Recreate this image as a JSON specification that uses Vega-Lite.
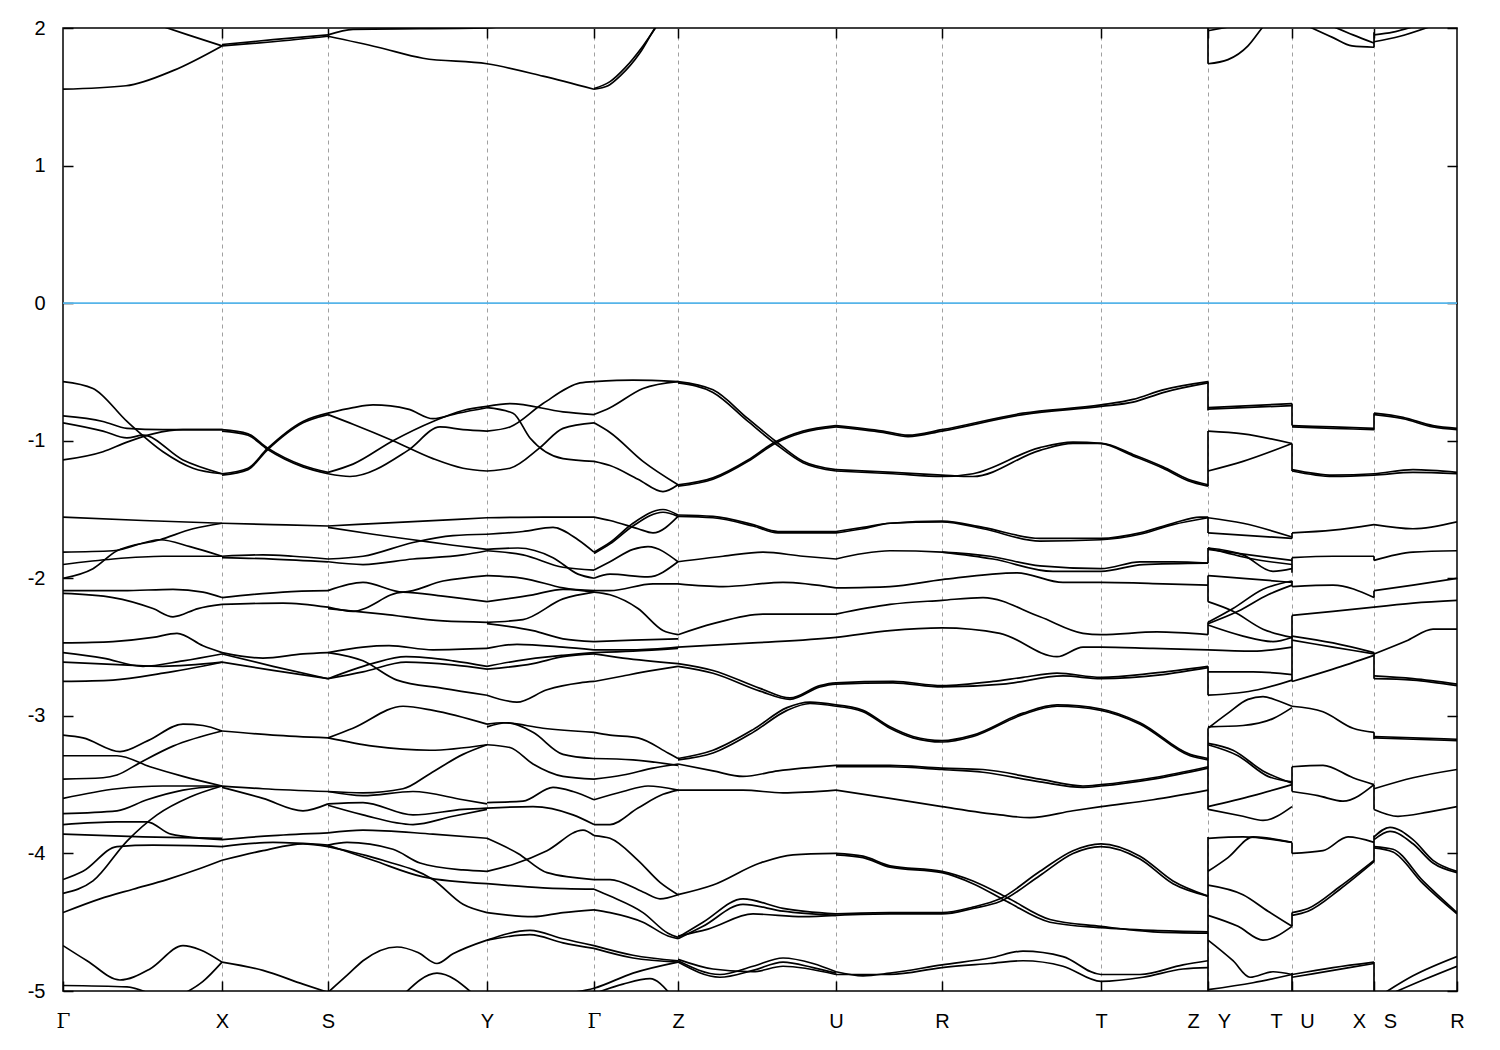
{
"$schema": "https://vega.github.io/schema/vega-lite/v6.json",
"autosize": {"type": "none"},
"padding": {"left": 63, "top": 28, "right": 43, "bottom": 59},
"width": 1394,
"height": 963,
"background": "white",
"config": {"view": {"stroke": "#000000", "strokeWidth": 1.5}},
"datasets": {
"bands": [
{"c":1,"k":0,"e":1.555},{"c":1,"k":63,"e":1.58},{"c":1,"k":110,"e":1.69},{"c":1,"k":159,"e":1.87},
{"c":2,"k":92,"e":2.03},{"c":2,"k":125,"e":1.95},{"c":2,"k":159,"e":1.87},
{"c":3,"k":159,"e":1.87},{"c":3,"k":210,"e":1.9},{"c":3,"k":265,"e":1.94},
{"c":4,"k":159,"e":1.88},{"c":4,"k":210,"e":1.915},{"c":4,"k":265,"e":1.95},
{"c":5,"k":265,"e":1.94},{"c":5,"k":315,"e":1.86},{"c":5,"k":360,"e":1.78},{"c":5,"k":424,"e":1.74},{"c":5,"k":480,"e":1.65},{"c":5,"k":531,"e":1.555},
{"c":6,"k":265,"e":1.95},{"c":6,"k":290,"e":1.99},{"c":6,"k":424,"e":2.0},{"c":6,"k":450,"e":2.03},
{"c":7,"k":531,"e":1.555},{"c":7,"k":545,"e":1.58},{"c":7,"k":557,"e":1.65},{"c":7,"k":577,"e":1.82},{"c":7,"k":592,"e":2.0},{"c":7,"k":602,"e":2.1},
{"c":8,"k":531,"e":1.56},{"c":8,"k":547,"e":1.61},{"c":8,"k":562,"e":1.71},{"c":8,"k":580,"e":1.87},{"c":8,"k":597,"e":2.05},
{"c":9,"k":1145,"e":1.74},{"c":9,"k":1165,"e":1.77},{"c":9,"k":1185,"e":1.87},{"c":9,"k":1199,"e":2.0},{"c":9,"k":1210,"e":2.1},
{"c":10,"k":1145,"e":1.98},{"c":10,"k":1167,"e":2.01},
{"c":11,"k":1243,"e":2.02},{"c":11,"k":1270,"e":1.93},{"c":11,"k":1289,"e":1.87},{"c":11,"k":1311,"e":1.86},
{"c":12,"k":1267,"e":2.02},{"c":12,"k":1290,"e":1.95},{"c":12,"k":1311,"e":1.89},
{"c":13,"k":1311,"e":1.95},{"c":13,"k":1330,"e":1.97},{"c":13,"k":1350,"e":2.01},
{"c":14,"k":1311,"e":1.9},{"c":14,"k":1337,"e":1.94},{"c":14,"k":1367,"e":2.01},
{"c":15,"k":1145,"e":1.74},{"c":15,"k":1145,"e":2.05},
{"c":16,"k":1311,"e":1.86},{"c":16,"k":1311,"e":1.97},

{"c":20,"k":0,"e":-0.57},{"c":20,"k":30,"e":-0.62},{"c":20,"k":64,"e":-0.86},{"c":20,"k":100,"e":-1.08},{"c":20,"k":130,"e":-1.2},{"c":20,"k":159,"e":-1.24},
{"c":21,"k":0,"e":-0.82},{"c":21,"k":40,"e":-0.86},{"c":21,"k":64,"e":-0.91},{"c":21,"k":100,"e":-0.92},{"c":21,"k":159,"e":-0.92},
{"c":22,"k":0,"e":-0.87},{"c":22,"k":40,"e":-0.93},{"c":22,"k":64,"e":-0.98},{"c":22,"k":80,"e":-0.96},{"c":22,"k":120,"e":-1.14},{"c":22,"k":159,"e":-1.24},
{"c":23,"k":0,"e":-1.14},{"c":23,"k":40,"e":-1.08},{"c":23,"k":64,"e":-1.01},{"c":23,"k":90,"e":-0.95},{"c":23,"k":120,"e":-0.92},{"c":23,"k":159,"e":-0.92},
{"c":24,"k":159,"e":-0.92},{"c":24,"k":185,"e":-0.95},{"c":24,"k":204,"e":-1.05},{"c":24,"k":240,"e":-1.18},{"c":24,"k":265,"e":-1.23},
{"c":25,"k":159,"e":-0.93},{"c":25,"k":185,"e":-0.96},{"c":25,"k":204,"e":-1.06},{"c":25,"k":240,"e":-1.19},{"c":25,"k":265,"e":-1.24},
{"c":26,"k":159,"e":-1.24},{"c":26,"k":185,"e":-1.2},{"c":26,"k":204,"e":-1.06},{"c":26,"k":240,"e":-0.86},{"c":26,"k":265,"e":-0.8},
{"c":27,"k":159,"e":-1.25},{"c":27,"k":185,"e":-1.21},{"c":27,"k":204,"e":-1.07},{"c":27,"k":240,"e":-0.87},{"c":27,"k":265,"e":-0.81},
{"c":28,"k":265,"e":-0.8},{"c":28,"k":290,"e":-0.76},{"c":28,"k":310,"e":-0.74},{"c":28,"k":345,"e":-0.77},{"c":28,"k":370,"e":-0.84},{"c":28,"k":395,"e":-0.8},{"c":28,"k":424,"e":-0.76},
{"c":29,"k":265,"e":-0.81},{"c":29,"k":290,"e":-0.88},{"c":29,"k":330,"e":-1.0},{"c":29,"k":370,"e":-1.13},{"c":29,"k":400,"e":-1.2},{"c":29,"k":424,"e":-1.22},
{"c":30,"k":265,"e":-1.23},{"c":30,"k":290,"e":-1.17},{"c":30,"k":330,"e":-1.0},{"c":30,"k":370,"e":-0.86},{"c":30,"k":400,"e":-0.78},{"c":30,"k":424,"e":-0.75},
{"c":31,"k":265,"e":-1.24},{"c":31,"k":287,"e":-1.26},{"c":31,"k":345,"e":-1.07},{"c":31,"k":377,"e":-0.9},{"c":31,"k":400,"e":-0.92},{"c":31,"k":424,"e":-0.93},
{"c":32,"k":424,"e":-0.75},{"c":32,"k":447,"e":-0.73},{"c":32,"k":500,"e":-0.79},{"c":32,"k":531,"e":-0.81},
{"c":33,"k":424,"e":-0.76},{"c":33,"k":450,"e":-0.8},{"c":33,"k":467,"e":-0.98},{"c":33,"k":500,"e":-1.13},{"c":33,"k":531,"e":-1.15},
{"c":34,"k":424,"e":-0.93},{"c":34,"k":447,"e":-0.9},{"c":34,"k":480,"e":-0.73},{"c":34,"k":517,"e":-0.58},{"c":34,"k":531,"e":-0.57},
{"c":35,"k":424,"e":-1.22},{"c":35,"k":447,"e":-1.2},{"c":35,"k":477,"e":-1.05},{"c":35,"k":500,"e":-0.91},{"c":35,"k":531,"e":-0.87},
{"c":36,"k":531,"e":-0.57},{"c":36,"k":570,"e":-0.56},{"c":36,"k":615,"e":-0.57},
{"c":37,"k":531,"e":-0.81},{"c":37,"k":547,"e":-0.76},{"c":37,"k":580,"e":-0.62},{"c":37,"k":615,"e":-0.57},
{"c":38,"k":531,"e":-0.87},{"c":38,"k":547,"e":-0.94},{"c":38,"k":580,"e":-1.15},{"c":38,"k":615,"e":-1.32},
{"c":39,"k":531,"e":-1.15},{"c":39,"k":547,"e":-1.18},{"c":39,"k":575,"e":-1.28},{"c":39,"k":600,"e":-1.37},{"c":39,"k":615,"e":-1.32},
{"c":40,"k":615,"e":-0.57},{"c":40,"k":650,"e":-0.63},{"c":40,"k":685,"e":-0.84},{"c":40,"k":712,"e":-1.0},{"c":40,"k":740,"e":-1.15},{"c":40,"k":773,"e":-1.21},
{"c":41,"k":615,"e":-0.58},{"c":41,"k":650,"e":-0.65},{"c":41,"k":685,"e":-0.86},{"c":41,"k":712,"e":-1.02},{"c":41,"k":740,"e":-1.16},{"c":41,"k":773,"e":-1.22},
{"c":42,"k":615,"e":-1.32},{"c":42,"k":650,"e":-1.27},{"c":42,"k":685,"e":-1.14},{"c":42,"k":712,"e":-1.01},{"c":42,"k":740,"e":-0.93},{"c":42,"k":773,"e":-0.89},
{"c":43,"k":615,"e":-1.33},{"c":43,"k":650,"e":-1.28},{"c":43,"k":685,"e":-1.15},{"c":43,"k":712,"e":-1.02},{"c":43,"k":740,"e":-0.94},{"c":43,"k":773,"e":-0.9},
{"c":44,"k":773,"e":-0.89},{"c":44,"k":820,"e":-0.93},{"c":44,"k":845,"e":-0.96},{"c":44,"k":879,"e":-0.92},{"c":44,"k":960,"e":-0.8},{"c":44,"k":1038,"e":-0.74},{"c":44,"k":1070,"e":-0.7},{"c":44,"k":1100,"e":-0.63},{"c":44,"k":1145,"e":-0.57},
{"c":45,"k":773,"e":-0.9},{"c":45,"k":820,"e":-0.94},{"c":45,"k":845,"e":-0.97},{"c":45,"k":879,"e":-0.93},{"c":45,"k":960,"e":-0.81},{"c":45,"k":1038,"e":-0.75},{"c":45,"k":1070,"e":-0.72},{"c":45,"k":1100,"e":-0.65},{"c":45,"k":1145,"e":-0.58},
{"c":46,"k":773,"e":-1.21},{"c":46,"k":830,"e":-1.23},{"c":46,"k":879,"e":-1.25},{"c":46,"k":910,"e":-1.26},{"c":46,"k":977,"e":-1.07},{"c":46,"k":1010,"e":-1.02},{"c":46,"k":1038,"e":-1.02},{"c":46,"k":1070,"e":-1.1},{"c":46,"k":1100,"e":-1.19},{"c":46,"k":1125,"e":-1.28},{"c":46,"k":1145,"e":-1.32},
{"c":47,"k":773,"e":-1.22},{"c":47,"k":830,"e":-1.24},{"c":47,"k":879,"e":-1.26},{"c":47,"k":910,"e":-1.24},{"c":47,"k":977,"e":-1.05},{"c":47,"k":1010,"e":-1.01},{"c":47,"k":1038,"e":-1.02},{"c":47,"k":1070,"e":-1.11},{"c":47,"k":1100,"e":-1.2},{"c":47,"k":1125,"e":-1.29},{"c":47,"k":1145,"e":-1.33},
{"c":48,"k":1145,"e":-0.57},{"c":48,"k":1145,"e":-0.78},
{"c":49,"k":1145,"e":-0.93},{"c":49,"k":1145,"e":-1.33},
{"c":50,"k":1145,"e":-0.76},{"c":50,"k":1229,"e":-0.73},
{"c":51,"k":1145,"e":-0.77},{"c":51,"k":1229,"e":-0.745},
{"c":52,"k":1145,"e":-0.93},{"c":52,"k":1180,"e":-0.95},{"c":52,"k":1229,"e":-1.02},
{"c":53,"k":1145,"e":-1.22},{"c":53,"k":1180,"e":-1.15},{"c":53,"k":1229,"e":-1.02},
{"c":54,"k":1229,"e":-0.73},{"c":54,"k":1229,"e":-0.89},
{"c":55,"k":1229,"e":-1.02},{"c":55,"k":1229,"e":-1.22},
{"c":56,"k":1229,"e":-0.89},{"c":56,"k":1270,"e":-0.9},{"c":56,"k":1311,"e":-0.91},
{"c":57,"k":1229,"e":-0.9},{"c":57,"k":1270,"e":-0.91},{"c":57,"k":1311,"e":-0.92},
{"c":58,"k":1229,"e":-1.21},{"c":58,"k":1270,"e":-1.25},{"c":58,"k":1311,"e":-1.24},{"c":58,"k":1350,"e":-1.21},{"c":58,"k":1394,"e":-1.23},
{"c":59,"k":1229,"e":-1.22},{"c":59,"k":1270,"e":-1.26},{"c":59,"k":1311,"e":-1.25},{"c":59,"k":1350,"e":-1.23},{"c":59,"k":1394,"e":-1.24},
{"c":60,"k":1311,"e":-0.8},{"c":60,"k":1311,"e":-0.92},
{"c":61,"k":1311,"e":-0.8},{"c":61,"k":1340,"e":-0.83},{"c":61,"k":1370,"e":-0.89},{"c":61,"k":1394,"e":-0.91},
{"c":62,"k":1311,"e":-0.81},{"c":62,"k":1340,"e":-0.84},{"c":62,"k":1370,"e":-0.9},{"c":62,"k":1394,"e":-0.92},

{"c":70,"k":0,"e":-1.555},{"c":70,"k":80,"e":-1.58},{"c":70,"k":159,"e":-1.6},
{"c":71,"k":0,"e":-1.81},{"c":71,"k":50,"e":-1.8},{"c":71,"k":97,"e":-1.72},{"c":71,"k":127,"e":-1.77},{"c":71,"k":159,"e":-1.84},
{"c":72,"k":0,"e":-1.9},{"c":72,"k":50,"e":-1.86},{"c":72,"k":100,"e":-1.84},{"c":72,"k":159,"e":-1.84},
{"c":73,"k":0,"e":-2.0},{"c":73,"k":30,"e":-1.93},{"c":73,"k":54,"e":-1.8},{"c":73,"k":97,"e":-1.72},{"c":73,"k":130,"e":-1.64},{"c":73,"k":159,"e":-1.6},
{"c":74,"k":0,"e":-2.09},{"c":74,"k":60,"e":-2.09},{"c":74,"k":110,"e":-2.08},{"c":74,"k":140,"e":-2.1},{"c":74,"k":159,"e":-2.14},
{"c":75,"k":0,"e":-2.11},{"c":75,"k":50,"e":-2.14},{"c":75,"k":90,"e":-2.22},{"c":75,"k":110,"e":-2.28},{"c":75,"k":135,"e":-2.22},{"c":75,"k":159,"e":-2.19},
{"c":76,"k":159,"e":-1.6},{"c":76,"k":210,"e":-1.61},{"c":76,"k":265,"e":-1.62},
{"c":77,"k":159,"e":-1.84},{"c":77,"k":200,"e":-1.83},{"c":77,"k":230,"e":-1.84},{"c":77,"k":265,"e":-1.86},
{"c":78,"k":159,"e":-1.85},{"c":78,"k":210,"e":-1.86},{"c":78,"k":265,"e":-1.88},
{"c":79,"k":159,"e":-2.14},{"c":79,"k":220,"e":-2.1},{"c":79,"k":265,"e":-2.09},
{"c":80,"k":159,"e":-2.19},{"c":80,"k":220,"e":-2.18},{"c":80,"k":265,"e":-2.21},
{"c":81,"k":265,"e":-1.62},{"c":81,"k":345,"e":-1.59},{"c":81,"k":424,"e":-1.56},
{"c":82,"k":265,"e":-1.63},{"c":82,"k":310,"e":-1.68},{"c":82,"k":350,"e":-1.72},{"c":82,"k":390,"e":-1.76},{"c":82,"k":424,"e":-1.79},
{"c":83,"k":265,"e":-1.86},{"c":83,"k":300,"e":-1.84},{"c":83,"k":350,"e":-1.74},{"c":83,"k":390,"e":-1.69},{"c":83,"k":424,"e":-1.68},
{"c":84,"k":265,"e":-1.88},{"c":84,"k":300,"e":-1.9},{"c":84,"k":350,"e":-1.86},{"c":84,"k":400,"e":-1.83},{"c":84,"k":424,"e":-1.8},
{"c":85,"k":265,"e":-2.09},{"c":85,"k":300,"e":-2.03},{"c":85,"k":340,"e":-2.1},{"c":85,"k":380,"e":-2.02},{"c":85,"k":424,"e":-1.98},
{"c":86,"k":265,"e":-2.21},{"c":86,"k":290,"e":-2.24},{"c":86,"k":340,"e":-2.1},{"c":86,"k":380,"e":-2.13},{"c":86,"k":424,"e":-2.17},
{"c":87,"k":265,"e":-2.22},{"c":87,"k":320,"e":-2.26},{"c":87,"k":380,"e":-2.31},{"c":87,"k":424,"e":-2.32},
{"c":88,"k":424,"e":-1.56},{"c":88,"k":480,"e":-1.555},{"c":88,"k":531,"e":-1.555},
{"c":89,"k":424,"e":-1.68},{"c":89,"k":460,"e":-1.66},{"c":89,"k":490,"e":-1.63},{"c":89,"k":515,"e":-1.72},{"c":89,"k":531,"e":-1.81},
{"c":90,"k":424,"e":-1.79},{"c":90,"k":455,"e":-1.78},{"c":90,"k":490,"e":-1.85},{"c":90,"k":515,"e":-1.97},{"c":90,"k":531,"e":-2.0},
{"c":91,"k":424,"e":-1.8},{"c":91,"k":460,"e":-1.83},{"c":91,"k":500,"e":-1.92},{"c":91,"k":531,"e":-1.94},
{"c":92,"k":424,"e":-1.98},{"c":92,"k":460,"e":-2.0},{"c":92,"k":500,"e":-2.07},{"c":92,"k":531,"e":-2.1},
{"c":93,"k":424,"e":-2.17},{"c":93,"k":470,"e":-2.12},{"c":93,"k":500,"e":-2.08},{"c":93,"k":531,"e":-2.09},
{"c":94,"k":424,"e":-2.32},{"c":94,"k":460,"e":-2.3},{"c":94,"k":500,"e":-2.15},{"c":94,"k":531,"e":-2.1},
{"c":95,"k":424,"e":-2.33},{"c":95,"k":470,"e":-2.38},{"c":95,"k":500,"e":-2.44},{"c":95,"k":531,"e":-2.46},
{"c":96,"k":531,"e":-1.555},{"c":96,"k":547,"e":-1.58},{"c":96,"k":575,"e":-1.64},{"c":96,"k":590,"e":-1.67},{"c":96,"k":615,"e":-1.55},
{"c":97,"k":531,"e":-1.81},{"c":97,"k":547,"e":-1.74},{"c":97,"k":570,"e":-1.6},{"c":97,"k":600,"e":-1.5},{"c":97,"k":615,"e":-1.54},
{"c":98,"k":531,"e":-1.82},{"c":98,"k":547,"e":-1.75},{"c":98,"k":570,"e":-1.62},{"c":98,"k":600,"e":-1.52},{"c":98,"k":615,"e":-1.55},
{"c":99,"k":531,"e":-1.94},{"c":99,"k":547,"e":-1.88},{"c":99,"k":570,"e":-1.79},{"c":99,"k":585,"e":-1.77},{"c":99,"k":615,"e":-1.88},
{"c":100,"k":531,"e":-2.0},{"c":100,"k":547,"e":-1.97},{"c":100,"k":585,"e":-1.99},{"c":100,"k":615,"e":-1.88},
{"c":101,"k":531,"e":-2.09},{"c":101,"k":547,"e":-2.09},{"c":101,"k":590,"e":-2.04},{"c":101,"k":615,"e":-2.04},
{"c":102,"k":531,"e":-2.1},{"c":102,"k":547,"e":-2.12},{"c":102,"k":575,"e":-2.22},{"c":102,"k":600,"e":-2.38},{"c":102,"k":615,"e":-2.41},
{"c":103,"k":531,"e":-2.46},{"c":103,"k":570,"e":-2.45},{"c":103,"k":615,"e":-2.44},
{"c":104,"k":615,"e":-1.55},{"c":104,"k":650,"e":-1.56},{"c":104,"k":690,"e":-1.62},{"c":104,"k":715,"e":-1.67},{"c":104,"k":773,"e":-1.67},
{"c":105,"k":615,"e":-1.54},{"c":105,"k":650,"e":-1.55},{"c":105,"k":690,"e":-1.61},{"c":105,"k":715,"e":-1.66},{"c":105,"k":773,"e":-1.66},
{"c":106,"k":615,"e":-1.88},{"c":106,"k":660,"e":-1.84},{"c":106,"k":700,"e":-1.81},{"c":106,"k":740,"e":-1.84},{"c":106,"k":773,"e":-1.86},
{"c":107,"k":615,"e":-2.04},{"c":107,"k":660,"e":-2.06},{"c":107,"k":720,"e":-2.03},{"c":107,"k":773,"e":-2.07},
{"c":108,"k":615,"e":-2.41},{"c":108,"k":650,"e":-2.33},{"c":108,"k":700,"e":-2.26},{"c":108,"k":773,"e":-2.26},
{"c":109,"k":773,"e":-1.67},{"c":109,"k":800,"e":-1.64},{"c":109,"k":827,"e":-1.6},{"c":109,"k":879,"e":-1.585},{"c":109,"k":920,"e":-1.63},{"c":109,"k":977,"e":-1.71},{"c":109,"k":1038,"e":-1.71},{"c":109,"k":1077,"e":-1.67},{"c":109,"k":1110,"e":-1.6},{"c":109,"k":1137,"e":-1.555},{"c":109,"k":1145,"e":-1.555},
{"c":110,"k":773,"e":-1.66},{"c":110,"k":800,"e":-1.63},{"c":110,"k":827,"e":-1.6},{"c":110,"k":879,"e":-1.59},{"c":110,"k":920,"e":-1.64},{"c":110,"k":977,"e":-1.73},{"c":110,"k":1038,"e":-1.72},{"c":110,"k":1077,"e":-1.68},{"c":110,"k":1110,"e":-1.61},{"c":110,"k":1145,"e":-1.56},
{"c":111,"k":773,"e":-1.86},{"c":111,"k":800,"e":-1.82},{"c":111,"k":827,"e":-1.8},{"c":111,"k":879,"e":-1.81},{"c":111,"k":927,"e":-1.84},{"c":111,"k":977,"e":-1.91},{"c":111,"k":1038,"e":-1.93},{"c":111,"k":1077,"e":-1.88},{"c":111,"k":1110,"e":-1.88},{"c":111,"k":1145,"e":-1.89},
{"c":112,"k":879,"e":-1.81},{"c":112,"k":930,"e":-1.86},{"c":112,"k":990,"e":-1.95},{"c":112,"k":1038,"e":-1.95},{"c":112,"k":1080,"e":-1.9},{"c":112,"k":1145,"e":-1.89},
{"c":113,"k":773,"e":-2.07},{"c":113,"k":827,"e":-2.06},{"c":113,"k":879,"e":-2.01},{"c":113,"k":954,"e":-1.96},{"c":113,"k":1000,"e":-2.03},{"c":113,"k":1038,"e":-2.03},{"c":113,"k":1100,"e":-2.04},{"c":113,"k":1145,"e":-2.05},
{"c":114,"k":773,"e":-2.26},{"c":114,"k":827,"e":-2.19},{"c":114,"k":879,"e":-2.16},{"c":114,"k":920,"e":-2.14},{"c":114,"k":977,"e":-2.28},{"c":114,"k":1020,"e":-2.4},{"c":114,"k":1038,"e":-2.41},{"c":114,"k":1094,"e":-2.39},{"c":114,"k":1145,"e":-2.41},
{"c":115,"k":1145,"e":-1.555},{"c":115,"k":1145,"e":-1.67},
{"c":116,"k":1145,"e":-1.78},{"c":116,"k":1145,"e":-1.89},
{"c":117,"k":1145,"e":-1.98},{"c":117,"k":1145,"e":-2.17},
{"c":118,"k":1145,"e":-2.32},{"c":118,"k":1145,"e":-2.41},
{"c":119,"k":1145,"e":-1.56},{"c":119,"k":1180,"e":-1.6},{"c":119,"k":1229,"e":-1.7},
{"c":120,"k":1145,"e":-1.67},{"c":120,"k":1229,"e":-1.71},
{"c":121,"k":1145,"e":-1.78},{"c":121,"k":1180,"e":-1.83},{"c":121,"k":1210,"e":-1.95},{"c":121,"k":1229,"e":-1.93},
{"c":122,"k":1145,"e":-1.78},{"c":122,"k":1190,"e":-1.86},{"c":122,"k":1229,"e":-1.9},
{"c":123,"k":1145,"e":-1.79},{"c":123,"k":1229,"e":-1.87},
{"c":124,"k":1145,"e":-1.98},{"c":124,"k":1180,"e":-2.0},{"c":124,"k":1229,"e":-2.03},
{"c":125,"k":1145,"e":-2.17},{"c":125,"k":1170,"e":-2.24},{"c":125,"k":1200,"e":-2.37},{"c":125,"k":1229,"e":-2.43},
{"c":126,"k":1145,"e":-2.32},{"c":126,"k":1170,"e":-2.22},{"c":126,"k":1200,"e":-2.08},{"c":126,"k":1229,"e":-2.02},
{"c":127,"k":1145,"e":-2.33},{"c":127,"k":1175,"e":-2.24},{"c":127,"k":1205,"e":-2.12},{"c":127,"k":1229,"e":-2.05},
{"c":128,"k":1145,"e":-2.34},{"c":128,"k":1180,"e":-2.42},{"c":128,"k":1210,"e":-2.46},{"c":128,"k":1229,"e":-2.43},
{"c":129,"k":1229,"e":-1.67},{"c":129,"k":1229,"e":-1.71},
{"c":130,"k":1229,"e":-1.85},{"c":130,"k":1229,"e":-1.96},
{"c":131,"k":1229,"e":-2.02},{"c":131,"k":1229,"e":-2.06},
{"c":132,"k":1229,"e":-2.27},{"c":132,"k":1229,"e":-2.43},
{"c":133,"k":1229,"e":-1.67},{"c":133,"k":1270,"e":-1.65},{"c":133,"k":1311,"e":-1.61},
{"c":134,"k":1229,"e":-1.85},{"c":134,"k":1270,"e":-1.84},{"c":134,"k":1311,"e":-1.84},
{"c":135,"k":1229,"e":-2.06},{"c":135,"k":1270,"e":-2.05},{"c":135,"k":1311,"e":-2.14},
{"c":136,"k":1229,"e":-2.27},{"c":136,"k":1270,"e":-2.24},{"c":136,"k":1311,"e":-2.21},
{"c":137,"k":1311,"e":-1.84},{"c":137,"k":1311,"e":-1.87},
{"c":138,"k":1311,"e":-2.09},{"c":138,"k":1311,"e":-2.14},
{"c":139,"k":1311,"e":-1.61},{"c":139,"k":1350,"e":-1.64},{"c":139,"k":1394,"e":-1.59},
{"c":140,"k":1311,"e":-1.87},{"c":140,"k":1350,"e":-1.81},{"c":140,"k":1394,"e":-1.8},
{"c":141,"k":1311,"e":-2.09},{"c":141,"k":1350,"e":-2.05},{"c":141,"k":1394,"e":-2.0},
{"c":142,"k":1311,"e":-2.21},{"c":142,"k":1350,"e":-2.18},{"c":142,"k":1394,"e":-2.16},

{"c":150,"k":0,"e":-2.47},{"c":150,"k":50,"e":-2.46},{"c":150,"k":90,"e":-2.43},{"c":150,"k":114,"e":-2.4},{"c":150,"k":140,"e":-2.49},{"c":150,"k":159,"e":-2.54},
{"c":151,"k":0,"e":-2.54},{"c":151,"k":40,"e":-2.58},{"c":151,"k":80,"e":-2.64},{"c":151,"k":120,"e":-2.6},{"c":151,"k":159,"e":-2.55},
{"c":152,"k":0,"e":-2.61},{"c":152,"k":60,"e":-2.63},{"c":152,"k":100,"e":-2.64},{"c":152,"k":159,"e":-2.61},
{"c":153,"k":0,"e":-2.75},{"c":153,"k":50,"e":-2.74},{"c":153,"k":100,"e":-2.69},{"c":153,"k":159,"e":-2.61},
{"c":154,"k":159,"e":-2.54},{"c":154,"k":200,"e":-2.58},{"c":154,"k":240,"e":-2.55},{"c":154,"k":265,"e":-2.54},
{"c":155,"k":159,"e":-2.55},{"c":155,"k":210,"e":-2.64},{"c":155,"k":265,"e":-2.73},
{"c":156,"k":159,"e":-2.61},{"c":156,"k":210,"e":-2.67},{"c":156,"k":265,"e":-2.73},
{"c":157,"k":265,"e":-2.54},{"c":157,"k":300,"e":-2.5},{"c":157,"k":326,"e":-2.49},{"c":157,"k":370,"e":-2.52},{"c":157,"k":424,"e":-2.51},
{"c":158,"k":265,"e":-2.54},{"c":158,"k":300,"e":-2.6},{"c":158,"k":334,"e":-2.74},{"c":158,"k":380,"e":-2.8},{"c":158,"k":424,"e":-2.85},
{"c":159,"k":265,"e":-2.73},{"c":159,"k":309,"e":-2.62},{"c":159,"k":343,"e":-2.57},{"c":159,"k":390,"e":-2.6},{"c":159,"k":424,"e":-2.64},
{"c":160,"k":265,"e":-2.73},{"c":160,"k":300,"e":-2.68},{"c":160,"k":343,"e":-2.61},{"c":160,"k":390,"e":-2.63},{"c":160,"k":424,"e":-2.66},
{"c":161,"k":424,"e":-2.51},{"c":161,"k":454,"e":-2.48},{"c":161,"k":500,"e":-2.5},{"c":161,"k":531,"e":-2.52},
{"c":162,"k":424,"e":-2.64},{"c":162,"k":454,"e":-2.6},{"c":162,"k":500,"e":-2.56},{"c":162,"k":531,"e":-2.54},
{"c":163,"k":424,"e":-2.66},{"c":163,"k":470,"e":-2.62},{"c":163,"k":500,"e":-2.57},{"c":163,"k":531,"e":-2.55},
{"c":164,"k":424,"e":-2.85},{"c":164,"k":454,"e":-2.9},{"c":164,"k":484,"e":-2.81},{"c":164,"k":517,"e":-2.76},{"c":164,"k":531,"e":-2.75},
{"c":165,"k":531,"e":-2.52},{"c":165,"k":570,"e":-2.52},{"c":165,"k":615,"e":-2.5},
{"c":166,"k":531,"e":-2.54},{"c":166,"k":570,"e":-2.53},{"c":166,"k":615,"e":-2.51},
{"c":167,"k":531,"e":-2.55},{"c":167,"k":560,"e":-2.58},{"c":167,"k":615,"e":-2.62},
{"c":168,"k":531,"e":-2.75},{"c":168,"k":560,"e":-2.71},{"c":168,"k":590,"e":-2.67},{"c":168,"k":615,"e":-2.64},
{"c":169,"k":615,"e":-2.5},{"c":169,"k":690,"e":-2.47},{"c":169,"k":773,"e":-2.43},{"c":169,"k":827,"e":-2.38},{"c":169,"k":879,"e":-2.36},{"c":169,"k":937,"e":-2.4},{"c":169,"k":994,"e":-2.57},{"c":169,"k":1020,"e":-2.5},{"c":169,"k":1038,"e":-2.5},{"c":169,"k":1090,"e":-2.51},{"c":169,"k":1145,"e":-2.52},
{"c":170,"k":615,"e":-2.62},{"c":170,"k":650,"e":-2.67},{"c":170,"k":697,"e":-2.8},{"c":170,"k":727,"e":-2.87},{"c":170,"k":757,"e":-2.78},{"c":170,"k":773,"e":-2.76},{"c":170,"k":830,"e":-2.75},{"c":170,"k":879,"e":-2.78},{"c":170,"k":930,"e":-2.75},{"c":170,"k":960,"e":-2.72},{"c":170,"k":994,"e":-2.69},{"c":170,"k":1038,"e":-2.72},{"c":170,"k":1090,"e":-2.69},{"c":170,"k":1145,"e":-2.64},
{"c":171,"k":615,"e":-2.64},{"c":171,"k":650,"e":-2.69},{"c":171,"k":697,"e":-2.82},{"c":171,"k":727,"e":-2.88},{"c":171,"k":757,"e":-2.79},{"c":171,"k":773,"e":-2.77},{"c":171,"k":830,"e":-2.76},{"c":171,"k":879,"e":-2.79},{"c":171,"k":940,"e":-2.77},{"c":171,"k":1000,"e":-2.71},{"c":171,"k":1038,"e":-2.73},{"c":171,"k":1100,"e":-2.7},{"c":171,"k":1145,"e":-2.65},
{"c":172,"k":1145,"e":-2.64},{"c":172,"k":1145,"e":-2.85},
{"c":173,"k":1145,"e":-2.52},{"c":173,"k":1190,"e":-2.53},{"c":173,"k":1229,"e":-2.5},
{"c":174,"k":1145,"e":-2.68},{"c":174,"k":1190,"e":-2.68},{"c":174,"k":1229,"e":-2.7},
{"c":175,"k":1145,"e":-2.85},{"c":175,"k":1195,"e":-2.81},{"c":175,"k":1229,"e":-2.74},
{"c":176,"k":1229,"e":-2.42},{"c":176,"k":1229,"e":-2.75},
{"c":177,"k":1229,"e":-2.45},{"c":177,"k":1270,"e":-2.5},{"c":177,"k":1311,"e":-2.55},
{"c":178,"k":1229,"e":-2.75},{"c":178,"k":1270,"e":-2.66},{"c":178,"k":1311,"e":-2.56},
{"c":179,"k":1229,"e":-2.42},{"c":179,"k":1270,"e":-2.47},{"c":179,"k":1311,"e":-2.54},
{"c":180,"k":1311,"e":-2.54},{"c":180,"k":1311,"e":-2.73},
{"c":181,"k":1311,"e":-2.55},{"c":181,"k":1345,"e":-2.45},{"c":181,"k":1370,"e":-2.37},{"c":181,"k":1394,"e":-2.37},
{"c":182,"k":1311,"e":-2.71},{"c":182,"k":1350,"e":-2.73},{"c":182,"k":1394,"e":-2.77},
{"c":183,"k":1311,"e":-2.73},{"c":183,"k":1350,"e":-2.74},{"c":183,"k":1394,"e":-2.78},

{"c":200,"k":0,"e":-3.14},{"c":200,"k":20,"e":-3.16},{"c":200,"k":57,"e":-3.26},{"c":200,"k":85,"e":-3.18},{"c":200,"k":120,"e":-3.06},{"c":200,"k":140,"e":-3.07},{"c":200,"k":159,"e":-3.11},
{"c":201,"k":0,"e":-3.29},{"c":201,"k":54,"e":-3.29},{"c":201,"k":87,"e":-3.37},{"c":201,"k":120,"e":-3.44},{"c":201,"k":159,"e":-3.51},
{"c":202,"k":0,"e":-3.46},{"c":202,"k":40,"e":-3.45},{"c":202,"k":54,"e":-3.43},{"c":202,"k":77,"e":-3.34},{"c":202,"k":110,"e":-3.22},{"c":202,"k":159,"e":-3.11},
{"c":203,"k":0,"e":-3.6},{"c":203,"k":54,"e":-3.53},{"c":203,"k":100,"e":-3.51},{"c":203,"k":159,"e":-3.51},
{"c":204,"k":0,"e":-3.71},{"c":204,"k":54,"e":-3.69},{"c":204,"k":84,"e":-3.61},{"c":204,"k":120,"e":-3.54},{"c":204,"k":159,"e":-3.51},
{"c":205,"k":0,"e":-3.79},{"c":205,"k":54,"e":-3.77},{"c":205,"k":84,"e":-3.77},{"c":205,"k":108,"e":-3.86},{"c":205,"k":159,"e":-3.9},
{"c":206,"k":0,"e":-3.86},{"c":206,"k":80,"e":-3.88},{"c":206,"k":159,"e":-3.89},
{"c":207,"k":0,"e":-4.19},{"c":207,"k":20,"e":-4.13},{"c":207,"k":54,"e":-3.95},{"c":207,"k":90,"e":-3.94},{"c":207,"k":159,"e":-3.95},
{"c":208,"k":0,"e":-4.29},{"c":208,"k":30,"e":-4.2},{"c":208,"k":64,"e":-3.91},{"c":208,"k":94,"e":-3.72},{"c":208,"k":127,"e":-3.59},{"c":208,"k":159,"e":-3.51},
{"c":209,"k":0,"e":-4.43},{"c":209,"k":37,"e":-4.33},{"c":209,"k":70,"e":-4.26},{"c":209,"k":104,"e":-4.19},{"c":209,"k":137,"e":-4.11},{"c":209,"k":159,"e":-4.05},
{"c":210,"k":0,"e":-4.67},{"c":210,"k":24,"e":-4.78},{"c":210,"k":57,"e":-4.92},{"c":210,"k":87,"e":-4.84},{"c":210,"k":120,"e":-4.67},{"c":210,"k":137,"e":-4.7},{"c":210,"k":159,"e":-4.79},
{"c":211,"k":0,"e":-4.96},{"c":211,"k":64,"e":-4.97},{"c":211,"k":90,"e":-5.03},
{"c":212,"k":118,"e":-5.03},{"c":212,"k":140,"e":-4.93},{"c":212,"k":159,"e":-4.79},
{"c":213,"k":159,"e":-3.11},{"c":213,"k":210,"e":-3.14},{"c":213,"k":265,"e":-3.16},
{"c":214,"k":159,"e":-3.51},{"c":214,"k":200,"e":-3.53},{"c":214,"k":265,"e":-3.55},
{"c":215,"k":159,"e":-3.52},{"c":215,"k":200,"e":-3.6},{"c":215,"k":240,"e":-3.69},{"c":215,"k":265,"e":-3.64},
{"c":216,"k":159,"e":-3.9},{"c":216,"k":210,"e":-3.87},{"c":216,"k":265,"e":-3.85},
{"c":217,"k":159,"e":-3.95},{"c":217,"k":210,"e":-3.92},{"c":217,"k":265,"e":-3.94},
{"c":218,"k":159,"e":-4.05},{"c":218,"k":200,"e":-3.98},{"c":218,"k":240,"e":-3.93},{"c":218,"k":265,"e":-3.95},
{"c":219,"k":159,"e":-4.79},{"c":219,"k":200,"e":-4.85},{"c":219,"k":240,"e":-4.95},{"c":219,"k":265,"e":-5.01},
{"c":220,"k":265,"e":-3.16},{"c":220,"k":290,"e":-3.09},{"c":220,"k":340,"e":-2.93},{"c":220,"k":370,"e":-2.96},{"c":220,"k":424,"e":-3.06},
{"c":221,"k":265,"e":-3.16},{"c":221,"k":310,"e":-3.22},{"c":221,"k":367,"e":-3.25},{"c":221,"k":424,"e":-3.21},
{"c":222,"k":265,"e":-3.55},{"c":222,"k":300,"e":-3.56},{"c":222,"k":340,"e":-3.53},{"c":222,"k":367,"e":-3.42},{"c":222,"k":400,"e":-3.28},{"c":222,"k":424,"e":-3.21},
{"c":223,"k":265,"e":-3.55},{"c":223,"k":300,"e":-3.58},{"c":223,"k":350,"e":-3.55},{"c":223,"k":400,"e":-3.61},{"c":223,"k":424,"e":-3.64},
{"c":224,"k":265,"e":-3.64},{"c":224,"k":300,"e":-3.63},{"c":224,"k":350,"e":-3.72},{"c":224,"k":400,"e":-3.68},{"c":224,"k":424,"e":-3.67},
{"c":225,"k":265,"e":-3.65},{"c":225,"k":300,"e":-3.72},{"c":225,"k":350,"e":-3.79},{"c":225,"k":390,"e":-3.73},{"c":225,"k":424,"e":-3.68},
{"c":226,"k":265,"e":-3.85},{"c":226,"k":300,"e":-3.83},{"c":226,"k":370,"e":-3.86},{"c":226,"k":424,"e":-3.89},
{"c":227,"k":265,"e":-3.94},{"c":227,"k":284,"e":-3.92},{"c":227,"k":330,"e":-3.97},{"c":227,"k":357,"e":-4.07},{"c":227,"k":400,"e":-4.12},{"c":227,"k":424,"e":-4.13},
{"c":228,"k":265,"e":-3.95},{"c":228,"k":320,"e":-4.05},{"c":228,"k":370,"e":-4.19},{"c":228,"k":400,"e":-4.37},{"c":228,"k":424,"e":-4.43},
{"c":229,"k":265,"e":-5.01},{"c":229,"k":285,"e":-4.88},{"c":229,"k":300,"e":-4.78},{"c":229,"k":334,"e":-4.68},{"c":229,"k":355,"e":-4.72},{"c":229,"k":374,"e":-4.8},{"c":229,"k":390,"e":-4.73},{"c":229,"k":424,"e":-4.63},
{"c":230,"k":340,"e":-5.03},{"c":230,"k":374,"e":-4.87},{"c":230,"k":410,"e":-5.02},
{"c":231,"k":265,"e":-3.94},{"c":231,"k":310,"e":-4.05},{"c":231,"k":360,"e":-4.17},{"c":231,"k":424,"e":-4.22},
{"c":232,"k":424,"e":-3.06},{"c":232,"k":440,"e":-3.05},{"c":232,"k":480,"e":-3.09},{"c":232,"k":531,"e":-3.12},
{"c":233,"k":424,"e":-3.08},{"c":233,"k":444,"e":-3.05},{"c":233,"k":470,"e":-3.12},{"c":233,"k":500,"e":-3.28},{"c":233,"k":531,"e":-3.31},
{"c":234,"k":424,"e":-3.21},{"c":234,"k":447,"e":-3.23},{"c":234,"k":470,"e":-3.35},{"c":234,"k":500,"e":-3.44},{"c":234,"k":531,"e":-3.46},
{"c":235,"k":424,"e":-3.63},{"c":235,"k":460,"e":-3.62},{"c":235,"k":490,"e":-3.52},{"c":235,"k":510,"e":-3.55},{"c":235,"k":531,"e":-3.61},
{"c":236,"k":424,"e":-3.67},{"c":236,"k":470,"e":-3.66},{"c":236,"k":510,"e":-3.72},{"c":236,"k":531,"e":-3.79},
{"c":237,"k":424,"e":-3.89},{"c":237,"k":455,"e":-4.0},{"c":237,"k":484,"e":-4.14},{"c":237,"k":531,"e":-4.19},
{"c":238,"k":424,"e":-4.13},{"c":238,"k":450,"e":-4.08},{"c":238,"k":484,"e":-3.98},{"c":238,"k":520,"e":-3.83},{"c":238,"k":531,"e":-3.87},
{"c":239,"k":424,"e":-4.22},{"c":239,"k":480,"e":-4.25},{"c":239,"k":531,"e":-4.26},
{"c":240,"k":424,"e":-4.43},{"c":240,"k":470,"e":-4.46},{"c":240,"k":500,"e":-4.43},{"c":240,"k":531,"e":-4.41},
{"c":241,"k":424,"e":-4.63},{"c":241,"k":467,"e":-4.56},{"c":241,"k":500,"e":-4.62},{"c":241,"k":531,"e":-4.67},
{"c":242,"k":424,"e":-4.63},{"c":242,"k":467,"e":-4.59},{"c":242,"k":500,"e":-4.65},{"c":242,"k":531,"e":-4.69},
{"c":244,"k":531,"e":-3.12},{"c":244,"k":547,"e":-3.14},{"c":244,"k":575,"e":-3.16},{"c":244,"k":605,"e":-3.27},{"c":244,"k":615,"e":-3.31},
{"c":245,"k":531,"e":-3.31},{"c":245,"k":570,"e":-3.32},{"c":245,"k":615,"e":-3.36},
{"c":246,"k":531,"e":-3.46},{"c":246,"k":560,"e":-3.43},{"c":246,"k":590,"e":-3.38},{"c":246,"k":615,"e":-3.35},
{"c":247,"k":531,"e":-3.61},{"c":247,"k":560,"e":-3.55},{"c":247,"k":585,"e":-3.51},{"c":247,"k":615,"e":-3.54},
{"c":248,"k":531,"e":-3.79},{"c":248,"k":547,"e":-3.79},{"c":248,"k":575,"e":-3.67},{"c":248,"k":600,"e":-3.57},{"c":248,"k":615,"e":-3.54},
{"c":249,"k":531,"e":-3.87},{"c":249,"k":547,"e":-3.89},{"c":249,"k":575,"e":-4.05},{"c":249,"k":597,"e":-4.21},{"c":249,"k":615,"e":-4.3},
{"c":250,"k":531,"e":-4.19},{"c":250,"k":547,"e":-4.19},{"c":250,"k":580,"e":-4.28},{"c":250,"k":597,"e":-4.33},{"c":250,"k":615,"e":-4.3},
{"c":251,"k":531,"e":-4.26},{"c":251,"k":547,"e":-4.31},{"c":251,"k":580,"e":-4.43},{"c":251,"k":605,"e":-4.58},{"c":251,"k":615,"e":-4.61},
{"c":252,"k":531,"e":-4.41},{"c":252,"k":547,"e":-4.43},{"c":252,"k":580,"e":-4.5},{"c":252,"k":605,"e":-4.6},{"c":252,"k":615,"e":-4.62},
{"c":253,"k":531,"e":-4.67},{"c":253,"k":570,"e":-4.74},{"c":253,"k":615,"e":-4.78},
{"c":254,"k":531,"e":-4.69},{"c":254,"k":570,"e":-4.76},{"c":254,"k":615,"e":-4.79},
{"c":255,"k":500,"e":-5.02},{"c":255,"k":531,"e":-4.98},{"c":255,"k":570,"e":-4.87},{"c":255,"k":615,"e":-4.79},
{"c":256,"k":531,"e":-5.02},{"c":256,"k":560,"e":-4.95},{"c":256,"k":587,"e":-4.91},{"c":256,"k":607,"e":-5.02},
{"c":257,"k":615,"e":-3.31},{"c":257,"k":650,"e":-3.25},{"c":257,"k":690,"e":-3.1},{"c":257,"k":724,"e":-2.94},{"c":257,"k":747,"e":-2.9},{"c":257,"k":773,"e":-2.92},
{"c":258,"k":615,"e":-3.32},{"c":258,"k":650,"e":-3.27},{"c":258,"k":690,"e":-3.12},{"c":258,"k":724,"e":-2.96},{"c":258,"k":747,"e":-2.91},{"c":258,"k":773,"e":-2.93},
{"c":259,"k":615,"e":-3.35},{"c":259,"k":650,"e":-3.4},{"c":259,"k":680,"e":-3.44},{"c":259,"k":715,"e":-3.4},{"c":259,"k":773,"e":-3.36},
{"c":260,"k":615,"e":-3.54},{"c":260,"k":680,"e":-3.54},{"c":260,"k":720,"e":-3.56},{"c":260,"k":773,"e":-3.54},
{"c":261,"k":615,"e":-4.3},{"c":261,"k":650,"e":-4.23},{"c":261,"k":697,"e":-4.07},{"c":261,"k":730,"e":-4.01},{"c":261,"k":773,"e":-4.0},
{"c":262,"k":615,"e":-4.61},{"c":262,"k":640,"e":-4.5},{"c":262,"k":680,"e":-4.33},{"c":262,"k":720,"e":-4.4},{"c":262,"k":773,"e":-4.44},
{"c":263,"k":615,"e":-4.62},{"c":263,"k":640,"e":-4.53},{"c":263,"k":680,"e":-4.37},{"c":263,"k":720,"e":-4.42},{"c":263,"k":773,"e":-4.45},
{"c":264,"k":615,"e":-4.6},{"c":264,"k":645,"e":-4.55},{"c":264,"k":690,"e":-4.44},{"c":264,"k":740,"e":-4.46},{"c":264,"k":773,"e":-4.45},
{"c":265,"k":615,"e":-4.78},{"c":265,"k":657,"e":-4.88},{"c":265,"k":690,"e":-4.82},{"c":265,"k":720,"e":-4.76},{"c":265,"k":750,"e":-4.8},{"c":265,"k":773,"e":-4.86},
{"c":266,"k":615,"e":-4.79},{"c":266,"k":657,"e":-4.9},{"c":266,"k":690,"e":-4.85},{"c":266,"k":720,"e":-4.79},{"c":266,"k":750,"e":-4.83},{"c":266,"k":773,"e":-4.87},
{"c":267,"k":615,"e":-4.77},{"c":267,"k":650,"e":-4.84},{"c":267,"k":690,"e":-4.86},{"c":267,"k":720,"e":-4.82},{"c":267,"k":773,"e":-4.88},
{"c":268,"k":773,"e":-2.92},{"c":268,"k":800,"e":-2.96},{"c":268,"k":827,"e":-3.08},{"c":268,"k":850,"e":-3.15},{"c":268,"k":879,"e":-3.18},{"c":268,"k":910,"e":-3.14},{"c":268,"k":960,"e":-2.98},{"c":268,"k":994,"e":-2.92},{"c":268,"k":1038,"e":-2.95},{"c":268,"k":1077,"e":-3.05},{"c":268,"k":1127,"e":-3.28},{"c":268,"k":1145,"e":-3.31},
{"c":269,"k":773,"e":-2.93},{"c":269,"k":800,"e":-2.97},{"c":269,"k":827,"e":-3.09},{"c":269,"k":850,"e":-3.16},{"c":269,"k":879,"e":-3.19},{"c":269,"k":910,"e":-3.15},{"c":269,"k":960,"e":-2.99},{"c":269,"k":994,"e":-2.93},{"c":269,"k":1038,"e":-2.96},{"c":269,"k":1077,"e":-3.06},{"c":269,"k":1127,"e":-3.29},{"c":269,"k":1145,"e":-3.32},
{"c":270,"k":773,"e":-3.36},{"c":270,"k":827,"e":-3.36},{"c":270,"k":879,"e":-3.38},{"c":270,"k":920,"e":-3.39},{"c":270,"k":977,"e":-3.46},{"c":270,"k":1020,"e":-3.51},{"c":270,"k":1038,"e":-3.5},{"c":270,"k":1090,"e":-3.45},{"c":270,"k":1145,"e":-3.37},
{"c":271,"k":773,"e":-3.37},{"c":271,"k":827,"e":-3.37},{"c":271,"k":879,"e":-3.39},{"c":271,"k":920,"e":-3.41},{"c":271,"k":977,"e":-3.48},{"c":271,"k":1020,"e":-3.52},{"c":271,"k":1038,"e":-3.51},{"c":271,"k":1090,"e":-3.46},{"c":271,"k":1145,"e":-3.38},
{"c":272,"k":773,"e":-3.54},{"c":272,"k":827,"e":-3.6},{"c":272,"k":879,"e":-3.66},{"c":272,"k":937,"e":-3.72},{"c":272,"k":967,"e":-3.74},{"c":272,"k":1010,"e":-3.69},{"c":272,"k":1038,"e":-3.66},{"c":272,"k":1090,"e":-3.61},{"c":272,"k":1145,"e":-3.54},
{"c":273,"k":773,"e":-4.0},{"c":273,"k":800,"e":-4.02},{"c":273,"k":827,"e":-4.09},{"c":273,"k":879,"e":-4.13},{"c":273,"k":910,"e":-4.2},{"c":273,"k":944,"e":-4.32},{"c":273,"k":987,"e":-4.48},{"c":273,"k":1038,"e":-4.53},{"c":273,"k":1090,"e":-4.57},{"c":273,"k":1145,"e":-4.58},
{"c":274,"k":773,"e":-4.01},{"c":274,"k":800,"e":-4.03},{"c":274,"k":827,"e":-4.1},{"c":274,"k":879,"e":-4.14},{"c":274,"k":910,"e":-4.22},{"c":274,"k":944,"e":-4.35},{"c":274,"k":987,"e":-4.5},{"c":274,"k":1038,"e":-4.54},{"c":274,"k":1090,"e":-4.56},{"c":274,"k":1145,"e":-4.57},
{"c":275,"k":773,"e":-4.44},{"c":275,"k":827,"e":-4.43},{"c":275,"k":879,"e":-4.43},{"c":275,"k":910,"e":-4.39},{"c":275,"k":937,"e":-4.33},{"c":275,"k":977,"e":-4.13},{"c":275,"k":1010,"e":-3.98},{"c":275,"k":1038,"e":-3.93},{"c":275,"k":1077,"e":-4.02},{"c":275,"k":1110,"e":-4.2},{"c":275,"k":1145,"e":-4.31},
{"c":276,"k":773,"e":-4.45},{"c":276,"k":827,"e":-4.44},{"c":276,"k":879,"e":-4.44},{"c":276,"k":910,"e":-4.4},{"c":276,"k":937,"e":-4.35},{"c":276,"k":977,"e":-4.16},{"c":276,"k":1010,"e":-4.0},{"c":276,"k":1038,"e":-3.95},{"c":276,"k":1077,"e":-4.04},{"c":276,"k":1110,"e":-4.22},{"c":276,"k":1145,"e":-4.31},
{"c":277,"k":773,"e":-4.86},{"c":277,"k":800,"e":-4.89},{"c":277,"k":827,"e":-4.87},{"c":277,"k":879,"e":-4.81},{"c":277,"k":927,"e":-4.76},{"c":277,"k":960,"e":-4.71},{"c":277,"k":1000,"e":-4.75},{"c":277,"k":1038,"e":-4.88},{"c":277,"k":1077,"e":-4.88},{"c":277,"k":1120,"e":-4.81},{"c":277,"k":1145,"e":-4.78},
{"c":278,"k":773,"e":-4.88},{"c":278,"k":827,"e":-4.88},{"c":278,"k":879,"e":-4.83},{"c":278,"k":927,"e":-4.8},{"c":278,"k":960,"e":-4.78},{"c":278,"k":1000,"e":-4.82},{"c":278,"k":1038,"e":-4.93},{"c":278,"k":1080,"e":-4.9},{"c":278,"k":1120,"e":-4.84},{"c":278,"k":1145,"e":-4.83},
{"c":279,"k":1145,"e":-3.09},{"c":279,"k":1145,"e":-3.68},
{"c":280,"k":1145,"e":-3.88},{"c":280,"k":1145,"e":-5.05},
{"c":281,"k":1145,"e":-3.09},{"c":281,"k":1165,"e":-2.98},{"c":281,"k":1185,"e":-2.88},{"c":281,"k":1200,"e":-2.86},{"c":281,"k":1215,"e":-2.89},{"c":281,"k":1229,"e":-2.93},
{"c":282,"k":1145,"e":-3.08},{"c":282,"k":1180,"e":-3.07},{"c":282,"k":1210,"e":-3.02},{"c":282,"k":1229,"e":-2.94},
{"c":283,"k":1145,"e":-3.2},{"c":283,"k":1170,"e":-3.25},{"c":283,"k":1200,"e":-3.4},{"c":283,"k":1229,"e":-3.49},
{"c":284,"k":1145,"e":-3.21},{"c":284,"k":1175,"e":-3.29},{"c":284,"k":1205,"e":-3.44},{"c":284,"k":1229,"e":-3.48},
{"c":285,"k":1145,"e":-3.66},{"c":285,"k":1190,"e":-3.58},{"c":285,"k":1229,"e":-3.5},
{"c":286,"k":1145,"e":-3.68},{"c":286,"k":1180,"e":-3.73},{"c":286,"k":1200,"e":-3.76},{"c":286,"k":1229,"e":-3.66},
{"c":287,"k":1145,"e":-3.89},{"c":287,"k":1180,"e":-3.88},{"c":287,"k":1229,"e":-3.92},
{"c":288,"k":1145,"e":-4.13},{"c":288,"k":1165,"e":-4.03},{"c":288,"k":1190,"e":-3.88},{"c":288,"k":1229,"e":-3.92},
{"c":289,"k":1145,"e":-4.23},{"c":289,"k":1180,"e":-4.3},{"c":289,"k":1205,"e":-4.42},{"c":289,"k":1229,"e":-4.53},
{"c":290,"k":1145,"e":-4.45},{"c":290,"k":1175,"e":-4.53},{"c":290,"k":1200,"e":-4.63},{"c":290,"k":1229,"e":-4.53},
{"c":291,"k":1145,"e":-4.63},{"c":291,"k":1170,"e":-4.78},{"c":291,"k":1187,"e":-4.9},{"c":291,"k":1210,"e":-4.86},{"c":291,"k":1229,"e":-4.88},
{"c":292,"k":1145,"e":-4.99},{"c":292,"k":1190,"e":-4.94},{"c":292,"k":1229,"e":-4.88},
{"c":293,"k":1229,"e":-3.37},{"c":293,"k":1229,"e":-3.55},
{"c":294,"k":1229,"e":-3.92},{"c":294,"k":1229,"e":-4.0},
{"c":295,"k":1229,"e":-4.43},{"c":295,"k":1229,"e":-4.53},
{"c":296,"k":1229,"e":-4.87},{"c":296,"k":1229,"e":-5.05},
{"c":297,"k":1229,"e":-2.93},{"c":297,"k":1260,"e":-2.97},{"c":297,"k":1290,"e":-3.09},{"c":297,"k":1311,"e":-3.12},
{"c":298,"k":1229,"e":-3.37},{"c":298,"k":1260,"e":-3.36},{"c":298,"k":1290,"e":-3.45},{"c":298,"k":1311,"e":-3.5},
{"c":299,"k":1229,"e":-3.55},{"c":299,"k":1255,"e":-3.58},{"c":299,"k":1280,"e":-3.62},{"c":299,"k":1311,"e":-3.5},
{"c":300,"k":1229,"e":-4.0},{"c":300,"k":1260,"e":-3.98},{"c":300,"k":1285,"e":-3.88},{"c":300,"k":1311,"e":-3.92},
{"c":301,"k":1229,"e":-4.43},{"c":301,"k":1245,"e":-4.4},{"c":301,"k":1277,"e":-4.24},{"c":301,"k":1311,"e":-4.05},
{"c":302,"k":1229,"e":-4.45},{"c":302,"k":1245,"e":-4.42},{"c":302,"k":1277,"e":-4.26},{"c":302,"k":1311,"e":-4.06},
{"c":303,"k":1229,"e":-4.88},{"c":303,"k":1270,"e":-4.83},{"c":303,"k":1311,"e":-4.79},
{"c":304,"k":1229,"e":-4.9},{"c":304,"k":1270,"e":-4.85},{"c":304,"k":1311,"e":-4.8},
{"c":305,"k":1311,"e":-3.12},{"c":305,"k":1311,"e":-3.17},
{"c":306,"k":1311,"e":-3.87},{"c":306,"k":1311,"e":-4.06},
{"c":307,"k":1311,"e":-4.79},{"c":307,"k":1311,"e":-5.05},
{"c":318,"k":1311,"e":-3.5},{"c":318,"k":1311,"e":-3.68},
{"c":308,"k":1311,"e":-3.16},{"c":308,"k":1350,"e":-3.17},{"c":308,"k":1394,"e":-3.18},
{"c":309,"k":1311,"e":-3.15},{"c":309,"k":1350,"e":-3.16},{"c":309,"k":1394,"e":-3.17},
{"c":310,"k":1311,"e":-3.53},{"c":310,"k":1350,"e":-3.45},{"c":310,"k":1394,"e":-3.39},
{"c":311,"k":1311,"e":-3.68},{"c":311,"k":1335,"e":-3.73},{"c":311,"k":1365,"e":-3.7},{"c":311,"k":1394,"e":-3.66},
{"c":312,"k":1311,"e":-3.88},{"c":312,"k":1327,"e":-3.81},{"c":312,"k":1350,"e":-3.9},{"c":312,"k":1370,"e":-4.05},{"c":312,"k":1394,"e":-4.13},
{"c":313,"k":1311,"e":-3.9},{"c":313,"k":1327,"e":-3.84},{"c":313,"k":1350,"e":-3.93},{"c":313,"k":1370,"e":-4.07},{"c":313,"k":1394,"e":-4.14},
{"c":314,"k":1311,"e":-3.95},{"c":314,"k":1330,"e":-3.97},{"c":314,"k":1360,"e":-4.2},{"c":314,"k":1394,"e":-4.43},
{"c":315,"k":1311,"e":-3.96},{"c":315,"k":1330,"e":-3.99},{"c":315,"k":1360,"e":-4.22},{"c":315,"k":1394,"e":-4.44},
{"c":316,"k":1318,"e":-5.03},{"c":316,"k":1350,"e":-4.89},{"c":316,"k":1394,"e":-4.75},
{"c":317,"k":1325,"e":-5.03},{"c":317,"k":1360,"e":-4.92},{"c":317,"k":1394,"e":-4.82}
],
"fermi": [{"k":0,"e":0},{"k":1394,"e":0}]
},
"layer": [
{
"data": {"name": "fermi"},
"mark": {"type": "line", "color": "#56b4e9", "strokeWidth": 1.8},
"encoding": {
"x": {"field": "k", "type": "quantitative", "scale": {"domain": [0, 1394], "nice": false, "zero": false},
"axis": {"orient": "top", "title": null, "values": [159,265,424,531,615,773,879,1038,1145,1229,1311], "labels": false, "domain": false, "grid": false, "tickSize": -10, "tickWidth": 1.5, "tickColor": "#000000"}},
"y": {"field": "e", "type": "quantitative", "scale": {"domain": [-5, 2], "nice": false, "zero": false},
"axis": {"orient": "right", "title": null, "values": [-5,-4,-3,-2,-1,0,1,2], "labels": false, "domain": false, "grid": false, "tickSize": -10, "tickWidth": 1.5, "tickColor": "#000000"}}
}
},
{
"data": {"name": "bands"},
"mark": {"type": "line", "color": "#000000", "strokeWidth": 1.7, "interpolate": "monotone", "clip": true},
"encoding": {
"x": {"field": "k", "type": "quantitative", "scale": {"domain": [0, 1394], "nice": false, "zero": false},
"axis": {"orient": "bottom", "title": null,
"values": [0,159,265,424,531,615,773,879,1038,1130,1145,1161,1213,1229,1244,1296,1311,1327,1394],
"labelExpr": "['Γ','X','S','Y','Γ','Z','U','R','T','Z','','Y','T','','U','X','','S','R'][indexof([0,159,265,424,531,615,773,879,1038,1130,1145,1161,1213,1229,1244,1296,1311,1327,1394], datum.value)]",
"domain": false, "grid": true, "gridColor": "#a0a0a0", "gridDash": [4, 4], "gridWidth": 1,
"gridOpacity": {"condition": {"test": "indexof([0,1130,1161,1213,1244,1296,1327,1394], datum.value) >= 0", "value": 0}, "value": 1},
"tickSize": -10, "tickWidth": 1.5, "tickColor": "#000000",
"tickOpacity": {"condition": {"test": "indexof([1130,1161,1213,1244,1296,1327], datum.value) >= 0", "value": 0}, "value": 1},
"labelPadding": 30, "labelFontSize": 20, "labelColor": "#000000", "labelAngle": 0, "labelOverlap": false, "labelFlush": false, "labelBound": false,
"labelFont": {"condition": {"test": "datum.value == 0 || datum.value == 531", "value": "DejaVu Serif"}, "value": "Liberation Sans"}}},
"y": {"field": "e", "type": "quantitative", "scale": {"domain": [-5, 2], "nice": false, "zero": false},
"axis": {"orient": "left", "title": null, "values": [-5,-4,-3,-2,-1,0,1,2], "labelExpr": "'' + datum.value", "domain": false, "grid": false, "tickSize": -10, "tickWidth": 1.5, "tickColor": "#000000", "labelPadding": 28, "labelFontSize": 20, "labelFont": "Liberation Sans", "labelColor": "#000000", "labelFlush": false, "labelBound": false}},
"detail": {"field": "c", "type": "nominal"}
}
}
],
"resolve": {"axis": {"x": "independent", "y": "independent"}}
}
